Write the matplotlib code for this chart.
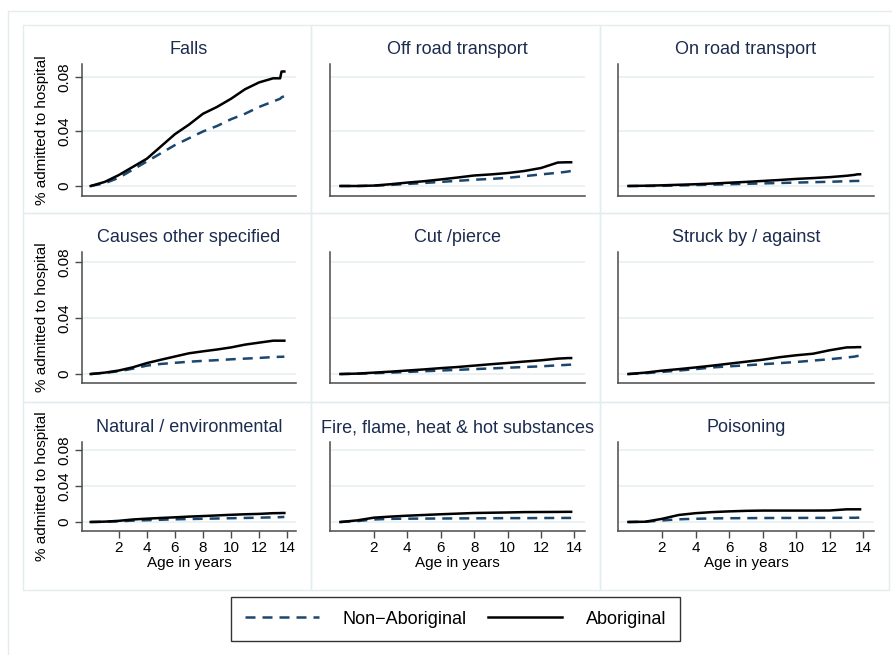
import matplotlib
matplotlib.use("Agg")
import matplotlib.pyplot as plt
from matplotlib.patches import Rectangle
from matplotlib.lines import Line2D

plt.rcParams['font.family'] = ['Liberation Sans', 'DejaVu Sans']

# ---------------- data ----------------
ages = [0, 1, 2, 3, 4, 5, 6, 7, 8, 9, 10, 11, 12, 13, 13.5, 13.6, 13.8]

categories = ["Falls", "Off road transport", "On road transport",
              "Causes other specified", "Cut /pierce", "Struck by / against",
              "Natural / environmental", "Fire, flame, heat & hot substances", "Poisoning"]

falls_abor = [0, 0.003, 0.008, 0.014, 0.020, 0.029, 0.038, 0.045, 0.053, 0.058, 0.064, 0.071, 0.076, 0.079, 0.079, 0.084, 0.084]
falls_non = [0, 0.002, 0.006, 0.012, 0.018, 0.024, 0.030, 0.035, 0.040, 0.044, 0.049, 0.053, 0.058, 0.062, 0.064, 0.065, 0.066]

offroad_abor = [0, 0, 0.0003, 0.0013, 0.0025, 0.0035, 0.0048, 0.0062, 0.0077, 0.0085, 0.0095, 0.011, 0.0132, 0.0172, 0.0174, 0.0174, 0.0174]
offroad_non = [0, 0, 0.0002, 0.0008, 0.0015, 0.0022, 0.003, 0.0038, 0.0046, 0.0052, 0.006, 0.0072, 0.0085, 0.0097, 0.0104, 0.0106, 0.011]

onroad_abor = [0, 0.0002, 0.0005, 0.0009, 0.0013, 0.0018, 0.0024, 0.003, 0.0037, 0.0044, 0.0052, 0.0058, 0.0065, 0.0075, 0.0082, 0.0085, 0.0086]
onroad_non = [0, 0, 0.0001, 0.0004, 0.0007, 0.001, 0.0013, 0.0016, 0.0019, 0.0022, 0.0025, 0.0028, 0.0031, 0.0035, 0.0037, 0.0037, 0.0038]

other_abor = [0, 0.001, 0.0025, 0.0048, 0.0078, 0.0102, 0.0125, 0.0148, 0.0162, 0.0175, 0.019, 0.021, 0.0224, 0.0238, 0.0238, 0.0238, 0.0238]
other_non = [0, 0.0008, 0.002, 0.0038, 0.006, 0.0072, 0.008, 0.0088, 0.0094, 0.0099, 0.0105, 0.011, 0.0115, 0.0121, 0.0123, 0.0123, 0.0124]

cut_abor = [0, 0.0003, 0.001, 0.0017, 0.0025, 0.0033, 0.0042, 0.005, 0.006, 0.007, 0.0079, 0.0089, 0.0098, 0.011, 0.0113, 0.0114, 0.0114]
cut_non = [0, 0.0002, 0.0006, 0.001, 0.0015, 0.002, 0.0025, 0.003, 0.0035, 0.004, 0.0045, 0.005, 0.0055, 0.0062, 0.0065, 0.0066, 0.0067]

struck_abor = [0, 0.001, 0.0024, 0.0035, 0.0047, 0.006, 0.0074, 0.0088, 0.0102, 0.012, 0.0134, 0.0145, 0.017, 0.019, 0.0191, 0.0192, 0.0192]
struck_non = [0, 0.0006, 0.0015, 0.0025, 0.0035, 0.0047, 0.0055, 0.0062, 0.007, 0.0078, 0.0086, 0.0096, 0.0106, 0.0118, 0.0125, 0.0128, 0.0131]

natural_abor = [0, 0.0004, 0.0013, 0.0028, 0.0037, 0.0045, 0.0052, 0.006, 0.0066, 0.0073, 0.008, 0.0086, 0.009, 0.0098, 0.0099, 0.01, 0.01]
natural_non = [0, 0.0002, 0.0008, 0.0015, 0.002, 0.0025, 0.003, 0.0033, 0.0036, 0.0039, 0.0042, 0.0045, 0.0048, 0.0052, 0.0054, 0.0055, 0.0056]

fire_abor = [0, 0.0018, 0.0048, 0.006, 0.007, 0.0078, 0.0086, 0.0093, 0.01, 0.0103, 0.0106, 0.011, 0.0111, 0.0112, 0.0113, 0.0113, 0.0113]
fire_non = [0, 0.001, 0.0028, 0.0035, 0.0037, 0.0038, 0.0039, 0.004, 0.0041, 0.0042, 0.0043, 0.0043, 0.0044, 0.0045, 0.0045, 0.0045, 0.0045]

poison_abor = [0, 0.0003, 0.0035, 0.0078, 0.0098, 0.011, 0.0118, 0.0124, 0.0127, 0.0127, 0.0127, 0.0127, 0.0128, 0.0141, 0.0141, 0.0141, 0.0141]
poison_non = [0, 0.0003, 0.0017, 0.003, 0.0036, 0.004, 0.0042, 0.0043, 0.0044, 0.0045, 0.0045, 0.0046, 0.0046, 0.0047, 0.0047, 0.0048, 0.0048]

series_labels = ["Non\u2212Aboriginal", "Aboriginal"]
y_ticks = [0, 0.04, 0.08]
y_ticklabels = ["0", "0.04", "0.08"]
x_ticks = [2, 4, 6, 8, 10, 12, 14]

abor_all = [falls_abor, offroad_abor, onroad_abor, other_abor, cut_abor, struck_abor,
            natural_abor, fire_abor, poison_abor]
non_all = [falls_non, offroad_non, onroad_non, other_non, cut_non, struck_non,
           natural_non, fire_non, poison_non]

# ---------------- layout ----------------
W, H = 892, 655
fig = plt.figure(figsize=(W / 100, H / 100), dpi=100)
fig.patch.set_facecolor("white")


def frect(x0, y0, x1, y1):
    return [x0 / W, 1 - y1 / H, (x1 - x0) / W, (y1 - y0) / H]


BOXC = "#e3ecef"
GRIDC = "#e6eff1"
TITLEC = "#1c2c4f"
NAVY = "#1a476f"
AXC = "#4a4a4a"

# outer frame (left and top edges visible)
fig.add_artist(Line2D([8 / W, 8 / W], [0, 1 - 11 / H], transform=fig.transFigure, color=BOXC, lw=1))
fig.add_artist(Line2D([8 / W, 1], [1 - 11 / H, 1 - 11 / H], transform=fig.transFigure, color=BOXC, lw=1))

col_box = [(23, 311), (311, 600), (600, 889)]
row_box = [(25, 213), (213, 402), (402, 590)]
for (bx0, bx1) in col_box:
    for (by0, by1) in row_box:
        r = frect(bx0, by0, bx1, by1)
        fig.add_artist(Rectangle((r[0], r[1]), r[2], r[3], transform=fig.transFigure,
                                 fill=False, edgecolor=BOXC, lw=1))

col_px = [(82, 296), (330, 585), (618, 874)]
row_px = [(64, 196), (252, 383), (442, 531)]
row_ylim = [(-0.00734, 0.0895), (-0.0064, 0.0871), (-0.010, 0.0889)]
xlim = (-0.62, 14.63)

handles = None
for i, cat in enumerate(categories):
    r, c = divmod(i, 3)
    x0, x1 = col_px[c]
    y0, y1 = row_px[r]
    ax = fig.add_axes(frect(x0, y0, x1, y1))
    ax.set_facecolor("white")
    ax.set_xlim(*xlim)
    ax.set_ylim(*row_ylim[r])
    for g in y_ticks:
        ax.axhline(g, color=GRIDC, lw=1.1, zorder=0)
    ln_n, = ax.plot(ages, non_all[i], color=NAVY, lw=1.8, ls=(0, (4.0, 2.8)), zorder=3)
    ln_a, = ax.plot(ages, abor_all[i], color="black", lw=1.8, zorder=4)
    if handles is None:
        handles = [ln_n, ln_a]
    for s in ["top", "right"]:
        ax.spines[s].set_visible(False)
    for s in ["left", "bottom"]:
        ax.spines[s].set_color(AXC)
        ax.spines[s].set_linewidth(1.1)
    ax.set_title(cat, fontsize=13, color=TITLEC, pad=7)
    if c == 0:
        ax.set_yticks(y_ticks)
        ax.set_yticklabels(y_ticklabels, rotation=90, va="center", fontsize=11)
        ax.tick_params(axis="y", length=5, width=1, color=AXC, pad=3)
        ax.set_ylabel("% admitted to hospital", fontsize=11, labelpad=6)
    else:
        ax.set_yticks([])
    if r == 2:
        ax.set_xticks(x_ticks)
        ax.set_xticklabels([str(t) for t in x_ticks], fontsize=11)
        ax.tick_params(axis="x", length=5, width=1, color=AXC, pad=2)
        ax.set_xlabel("Age in years", fontsize=11, labelpad=1)
    else:
        ax.set_xticks([])

leg = fig.legend(handles, series_labels, loc="center",
                 bbox_to_anchor=((234 + 677) / 2 / W, 1 - 619 / H),
                 ncol=2, fontsize=13, frameon=True, fancybox=False,
                 edgecolor="black", handlelength=4.1, handletextpad=1.3,
                 columnspacing=1.2, borderpad=0.75)
leg.get_frame().set_linewidth(1.0)

fig.savefig("out.png", dpi=100, facecolor="white")
